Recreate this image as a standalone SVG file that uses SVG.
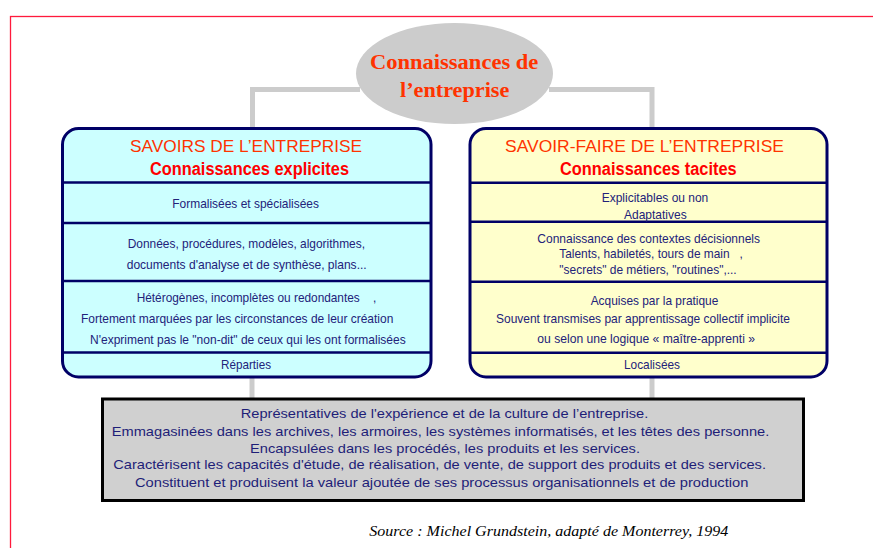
<svg xmlns="http://www.w3.org/2000/svg" width="873" height="548" viewBox="0 0 873 548">
<style>
.body{font-family:"Liberation Sans",Arial,sans-serif;font-size:13.5px;fill:#22227a}
.bot{font-family:"Liberation Sans",Arial,sans-serif;font-size:13px;fill:#1e1e78}
.t1{font-family:"Liberation Sans",Arial,sans-serif;font-size:16.5px;fill:#ff3300}
.t2{font-family:"Liberation Sans",Arial,sans-serif;font-size:17.5px;font-weight:bold;fill:#ff0000}
.root{font-family:"Liberation Serif","Times New Roman",serif;font-size:22px;font-weight:bold;fill:#ff3300}
.src{font-family:"Liberation Serif","Times New Roman",serif;font-size:14.5px;font-style:italic;fill:#000}
.conn{fill:none;stroke:#cccccc;stroke-width:5}
.sep{stroke:#000066;stroke-width:2.5}
.box{stroke:#000066;stroke-width:3}
</style>
<rect x="0" y="0" width="873" height="548" fill="#ffffff"/>
<rect id="border" x="10.5" y="16.5" width="900" height="600" fill="none" stroke="#ff1a3c" stroke-width="1.3"/>
<g id="connectors">
<path class="conn" d="M252.5,127 V89.5 H360"/>
<path class="conn" d="M549,89.5 H652 V127"/>
<path class="conn" d="M252,377 V398"/>
<path class="conn" d="M652,377 V398"/>
</g>
<g id="node-root">
<ellipse cx="454.5" cy="73.5" rx="98.5" ry="50.5" fill="#cccccc"/>
<text class="root" x="370" y="69.3" textLength="168.3" lengthAdjust="spacingAndGlyphs">Connaissances de</text>
<text class="root" x="400" y="96.7" textLength="109.3" lengthAdjust="spacingAndGlyphs">l’entreprise</text>
</g>
<g id="node-explicit">
<rect class="box" x="62.5" y="128.5" width="368.5" height="248.5" rx="16" fill="#ccffff"/>
<line class="sep" x1="62.5" y1="182.5" x2="431" y2="182.5"/>
<line class="sep" x1="62.5" y1="223" x2="431" y2="223"/>
<line class="sep" x1="62.5" y1="281" x2="431" y2="281"/>
<line class="sep" x1="62.5" y1="352.5" x2="431" y2="352.5"/>
<text class="t1" x="130" y="151.7" textLength="232" lengthAdjust="spacingAndGlyphs">SAVOIRS DE L’ENTREPRISE</text>
<text class="t2" x="150" y="175" textLength="199" lengthAdjust="spacingAndGlyphs">Connaissances explicites</text>
<text class="body" x="172.3" y="208" textLength="146.7" lengthAdjust="spacingAndGlyphs">Formalisées et spécialisées</text>
<text class="body" x="127.7" y="248.3" textLength="237.3" lengthAdjust="spacingAndGlyphs">Données, procédures, modèles, algorithmes,</text>
<text class="body" x="126.7" y="269.3" textLength="240" lengthAdjust="spacingAndGlyphs">documents d'analyse et de synthèse, plans...</text>
<text class="body" x="136.7" y="301.7" textLength="239.5" lengthAdjust="spacingAndGlyphs" xml:space="preserve">Hétérogènes, incomplètes ou redondantes    ,</text>
<text class="body" x="81" y="322.7" textLength="312.3" lengthAdjust="spacingAndGlyphs">Fortement marquées par les circonstances de leur création</text>
<text class="body" x="90" y="344" textLength="315.7" lengthAdjust="spacingAndGlyphs">N'expriment pas le "non-dit" de ceux qui les ont formalisées</text>
<text class="body" x="221" y="369.3" textLength="50" lengthAdjust="spacingAndGlyphs">Réparties</text>
</g>
<g id="node-tacit">
<rect class="box" x="470" y="128.5" width="357" height="248.5" rx="16" fill="#ffffcc"/>
<line class="sep" x1="470" y1="182.7" x2="827" y2="182.7"/>
<line class="sep" x1="470" y1="221.7" x2="827" y2="221.7"/>
<line class="sep" x1="470" y1="281.7" x2="827" y2="281.7"/>
<line class="sep" x1="470" y1="352.7" x2="827" y2="352.7"/>
<text class="t1" x="505" y="151.7" textLength="279" lengthAdjust="spacingAndGlyphs">SAVOIR-FAIRE DE L’ENTREPRISE</text>
<text class="t2" x="560" y="175" textLength="176.7" lengthAdjust="spacingAndGlyphs">Connaissances tacites</text>
<text class="body" x="601.7" y="201.7" textLength="106.6" lengthAdjust="spacingAndGlyphs">Explicitables ou non</text>
<text class="body" x="624" y="219.3" textLength="62.7" lengthAdjust="spacingAndGlyphs">Adaptatives</text>
<text class="body" x="537.3" y="242.7" textLength="222.7" lengthAdjust="spacingAndGlyphs">Connaissance des contextes décisionnels</text>
<text class="body" x="559.3" y="258.3" textLength="183.5" lengthAdjust="spacingAndGlyphs" xml:space="preserve">Talents, habiletés, tours de main   ,</text>
<text class="body" x="559.3" y="274" textLength="177.4" lengthAdjust="spacingAndGlyphs">"secrets" de métiers, "routines",...</text>
<text class="body" x="590.7" y="305" textLength="127.6" lengthAdjust="spacingAndGlyphs">Acquises par la pratique</text>
<text class="body" x="496" y="323.3" textLength="294" lengthAdjust="spacingAndGlyphs">Souvent transmises par apprentissage collectif implicite</text>
<text class="body" x="537.3" y="342.7" textLength="217.7" lengthAdjust="spacingAndGlyphs">ou selon une logique « maître-apprenti »</text>
<text class="body" x="624" y="369.3" textLength="56" lengthAdjust="spacingAndGlyphs">Localisées</text>
</g>
<g id="node-common">
<rect x="102.5" y="399" width="701" height="101.5" fill="#d0d0d0" stroke="#000000" stroke-width="3"/>
<text class="bot" x="240.7" y="418.3" textLength="407.6" lengthAdjust="spacingAndGlyphs">Représentatives de l'expérience et de la culture de l’entreprise.</text>
<text class="bot" x="111.7" y="436" textLength="657.6" lengthAdjust="spacingAndGlyphs">Emmagasinées dans les archives, les armoires, les systèmes informatisés, et les têtes des personne.</text>
<text class="bot" x="250" y="452.7" textLength="390" lengthAdjust="spacingAndGlyphs">Encapsulées dans les procédés, les produits et les services.</text>
<text class="bot" x="113.3" y="469.3" textLength="652.7" lengthAdjust="spacingAndGlyphs">Caractérisent les capacités d'étude, de réalisation, de vente, de support des produits et des services.</text>
<text class="bot" x="135" y="486.7" textLength="613.3" lengthAdjust="spacingAndGlyphs">Constituent et produisent la valeur ajoutée de ses processus organisationnels et de production</text>
</g>
<g id="source">
<text class="src" x="369.3" y="535.7" textLength="359" lengthAdjust="spacingAndGlyphs">Source : Michel Grundstein, adapté de Monterrey, 1994</text>
</g>
</svg>
